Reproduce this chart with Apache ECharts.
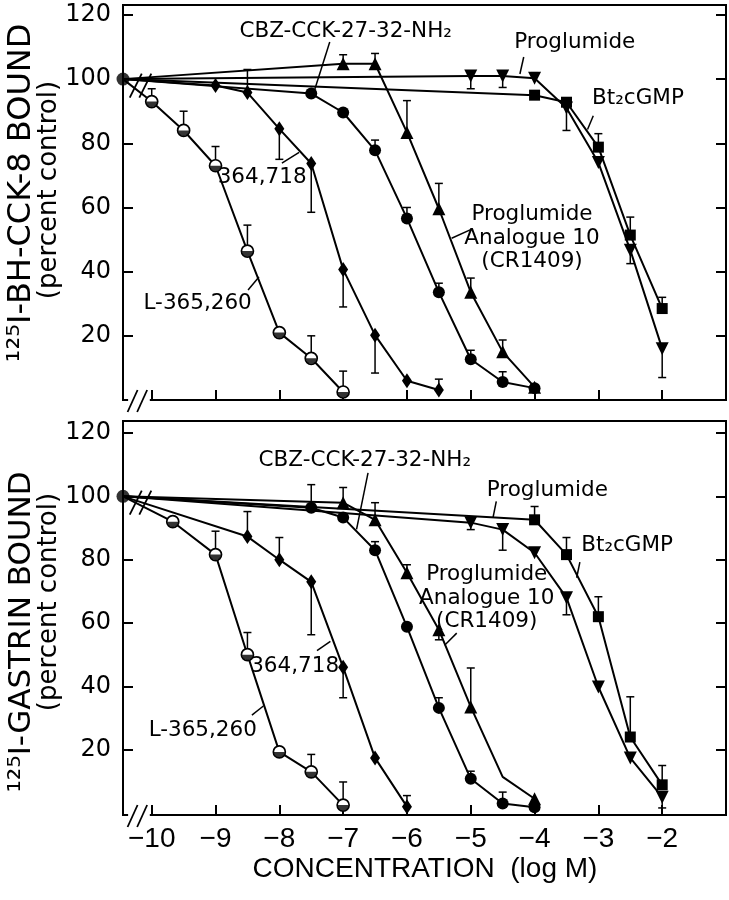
<!DOCTYPE html>
<html>
<head>
<meta charset="utf-8">
<script src="https://cdn.jsdelivr.net/npm/echarts@6/dist/echarts.min.js"></script>
<style>
  html, body { margin: 0; padding: 0; background: #fff; }
  #chart { width: 729px; height: 900px; }
</style>
</head>
<body>
<div id="chart"></div>
<script>
// control value sits on the broken left edge of each panel
const CTRL = -10.45;

const xTicks = [-10, -9, -8, -7, -6, -5, -4, -3, -2];
const yTicks = [20, 40, 60, 80, 100, 120];

// ---- top panel: 125I-BH-CCK-8 bound ----
const lTop = [[CTRL, 100], [-10, 93], [-9.5, 84], [-9, 73], [-8.5, 46.4], [-8, 21], [-7.5, 13], [-7, 2.5]];
const lTopErr = [[-10, 93, 97], [-9.5, 84, 90], [-9, 73, 79], [-8.5, 46.4, 54.5], [-7.5, 13, 20], [-7, 2.5, 9]];

const dTop = [[CTRL, 100], [-9, 98], [-8.5, 95.8], [-8, 84.5], [-7.5, 73.7], [-7, 40.7], [-6.5, 20.2], [-6, 6], [-5.5, 3.1]];
const dTopErr = [[-8.5, 95.8, 103], [-8, 84.5, 75], [-7.5, 73.7, 58.5], [-7, 40.7, 29], [-6.5, 20.2, 8.4], [-5.5, 3.1, 6.5]];

const cbzTop = [[CTRL, 100], [-7.5, 95.5], [-7, 89.6], [-6.5, 77.8], [-6, 56.6], [-5.5, 33.6], [-5, 12.7], [-4.5, 5.6], [-4, 3.7]];
const cbzTopErr = [[-6.5, 77.8, 81], [-6, 56.6, 60], [-5.5, 33.6, 36.4], [-5, 12.7, 15.5], [-4.5, 5.6, 8.8]];

const anaTop = [[CTRL, 100], [-7, 104.8], [-6.5, 104.8], [-6, 83.4], [-5.5, 59.6], [-5, 33.6], [-4.5, 15], [-4, 4]];
const anaTopErr = [[-7, 104.8, 107.6], [-6.5, 104.8, 108], [-6, 83.4, 93.3], [-5.5, 59.6, 67.5], [-5, 33.6, 38], [-4.5, 15, 18.7]];

const proTop = [[CTRL, 100], [-5, 101], [-4.5, 101], [-4, 100.3], [-3.5, 91], [-3, 74], [-2.5, 46.7], [-2, 16]];
const proTopErr = [[-5, 101, 97], [-4.5, 101, 97.4], [-4, 100.3, 102], [-3.5, 91, 84], [-2.5, 46.7, 42.5], [-2, 16, 7]];

const cgTop = [[CTRL, 100], [-4, 95], [-3.5, 92.8], [-3, 78.8], [-2.5, 51.4], [-2, 28.5]];
const cgTopErr = [[-3, 78.8, 83], [-2.5, 51.4, 57], [-2, 28.5, 32]];

// ---- bottom panel: 125I-gastrin bound ----
const lBot = [[CTRL, 100], [-9.67, 92], [-9, 81.6], [-8.5, 50], [-8, 19.3], [-7.5, 13], [-7, 2.5]];
const lBotErr = [[-9, 81.6, 89], [-8.5, 50, 57], [-7.5, 13, 18.5], [-7, 2.5, 9.8]];

const dBot = [[CTRL, 100], [-8.5, 87.3], [-8, 80], [-7.5, 73], [-7, 46], [-6.5, 17.4], [-6, 2]];
const dBotErr = [[-8.5, 87.3, 95.2], [-8, 80, 87], [-7.5, 73, 56.3], [-7, 46, 36.4], [-6, 2, 5.5]];

const cbzBot = [[CTRL, 100], [-7.5, 96.4], [-7, 93.3], [-6.5, 83], [-6, 58.8], [-5.5, 33.2], [-5, 10.8], [-4.5, 3], [-4, 1.8]];
const cbzBotErr = [[-7.5, 96.4, 103.7], [-6.5, 83, 85.7], [-5.5, 33.2, 36.4], [-5, 10.8, 13.2], [-4.5, 3, 6.6]];

const anaBot = [[CTRL, 100], [-7, 98], [-6.5, 92.6], [-6, 75.9], [-5.5, 57.9], [-5, 33.5], [-4.5, 11.4], [-4, 4.5]];
const anaBotErr = [[-7, 98, 102.8], [-6.5, 92.6, 98], [-6, 75.9, 78.4], [-5.5, 57.9, 54.7], [-5, 33.5, 45.8]];
const anaBotBends = [-4.5]; // bend in the line with no marker

const proBot = [[CTRL, 100], [-5, 91.7], [-4.5, 89.5], [-4, 82.2], [-3.5, 68], [-3, 39.8], [-2.5, 17.4], [-2, 5]];
const proBotErr = [[-5, 91.7, 89.5], [-4.5, 89.5, 83], [-3.5, 68, 62.6], [-2, 5, 1.6]];

const cgBot = [[CTRL, 100], [-4, 92.6], [-3.5, 81.6], [-3, 62], [-2.5, 24], [-2, 8.9]];
const cgBotErr = [[-4, 92.6, 96.8], [-3.5, 81.6, 87], [-3, 62, 68.3], [-2.5, 24, 36.7], [-2, 8.9, 15]];

const control = [[CTRL, 100]];

// annotation labels [x, y, text] and arrows [x1, y1, x2, y2], in data units
const notesTop = [
  [-6.96, 115.0, 'CBZ-CCK-27-32-NH\u2082'],
  [-3.37, 111.3, 'Proglumide'],
  [-2.38, 94.1, 'Bt\u2082cGMP'],
  [-8.27, 69.5, '364,718'],
  [-9.28, 30.2, 'L-365,260'],
  [-4.04, 50.5, 'Proglumide\nAnalogue 10\n(CR1409)']
];
const arrowsTop = [
  [-7.21, 111.6, -7.47, 95.2], [-4.17, 106.9, -4.23, 101.6], [-3.08, 88.6, -3.17, 84.3],
  [-7.96, 73.8, -7.69, 77.2], [-8.49, 34.3, -8.32, 38.3], [-5.01, 53.0, -5.3, 50.4]
];
const notesBot = [
  [-6.66, 111.5, 'CBZ-CCK-27-32-NH\u2082'],
  [-3.80, 102.0, 'Proglumide'],
  [-2.55, 84.6, 'Bt\u2082cGMP'],
  [-4.75, 67.9, 'Proglumide\nAnalogue 10\n(CR1409)'],
  [-7.76, 46.4, '364,718'],
  [-9.2, 26.2, 'L-365,260']
];
const arrowsBot = [
  [-6.61, 107.4, -6.79, 89.6], [-4.6, 98.4, -4.65, 93.4], [-3.29, 79.2, -3.34, 74.3],
  [-5.22, 56.8, -5.41, 53.0], [-7.41, 51.3, -7.2, 54.2], [-8.43, 30.9, -8.25, 33.8]
];

const FONT = 'DejaVu Sans';
const yRange = [[0, 123.1], [-0.63, 123.8]];

function curve(data, gi, symbol, size, opts) {
  opts = opts || {};
  const hide = opts.hide || [];
  return {
    type: 'line',
    xAxisIndex: gi,
    yAxisIndex: gi * 2,
    data: data.map(p => (p[0] === CTRL || hide.includes(p[0])) ? { value: p, symbol: 'none' } : p),
    symbol: symbol,
    symbolSize: size,
    symbolRotate: opts.rotate || 0,
    showAllSymbol: true,
    lineStyle: { color: '#000', width: 2 },
    itemStyle: { color: opts.fill || '#000', borderColor: '#000', borderWidth: opts.border || 0 },
    z: 4
  };
}

// lower half of the half-filled circle marker
function halfFill(data, gi) {
  return {
    type: 'scatter',
    xAxisIndex: gi,
    yAxisIndex: gi * 2,
    data: data.filter(p => p[0] !== CTRL),
    symbol: 'path://M0,0 A10,10 0 0 0 20,0 Z',
    symbolKeepAspect: true,
    symbolSize: 11,
    symbolOffset: [0, '25%'],
    itemStyle: { color: '#000' },
    z: 5
  };
}

function errBars(data, gi) {
  return {
    type: 'custom',
    xAxisIndex: gi,
    yAxisIndex: gi * 2,
    data: data,
    encode: { x: 0, y: [1, 2] },
    silent: true,
    z: 3,
    renderItem: function (params, api) {
      const a = api.coord([api.value(0), api.value(1)]);
      const b = api.coord([api.value(0), api.value(2)]);
      const st = { stroke: '#000', lineWidth: 1.5 };
      return {
        type: 'group',
        children: [
          { type: 'line', shape: { x1: a[0], y1: a[1], x2: b[0], y2: b[1] }, style: st },
          { type: 'line', shape: { x1: b[0] - 4, y1: b[1], x2: b[0] + 4, y2: b[1] }, style: st }
        ]
      };
    }
  };
}

// arrows from the labels to their curves
function arrowSeries(arrows, gi) {
  return {
    type: 'line',
    xAxisIndex: gi,
    yAxisIndex: gi * 2,
    data: [],
    silent: true,
    z: 6,
    markLine: {
      silent: true,
      symbol: ['none', 'arrow'],
      symbolSize: [0, 8],
      label: { show: false },
      lineStyle: { color: '#000', width: 1.5, type: 'solid' },
      data: arrows.map(a => [{ coord: [a[0], a[1]] }, { coord: [a[2], a[3]] }])
    }
  };
}

function panelSeries(gi, s) {
  return [
    errBars(s.lErr, gi), errBars(s.dErr, gi), errBars(s.cbzErr, gi),
    errBars(s.anaErr, gi), errBars(s.proErr, gi), errBars(s.cgErr, gi),
    curve(s.l, gi, 'circle', 12, { fill: '#fff', border: 1.7 }),
    halfFill(s.l, gi),
    curve(s.d, gi, 'diamond', [10, 15]),
    curve(s.cbz, gi, 'circle', 12),
    curve(s.ana, gi, 'triangle', 13, { hide: s.anaHide || [] }),
    curve(s.pro, gi, 'triangle', 13, { rotate: 180 }),
    curve(s.cg, gi, 'rect', 11),
    {
      type: 'scatter', xAxisIndex: gi, yAxisIndex: gi * 2, data: control,
      symbol: 'circle', symbolSize: 13, itemStyle: { color: '#000' }, z: 5
    },
    arrowSeries(s.arrows, gi)
  ];
}

const chart = echarts.init(document.getElementById('chart'), null, { renderer: 'canvas' });

const axisLine = { show: true, onZero: false, lineStyle: { color: '#000', width: 2 } };
const tickStyle = { color: '#000', width: 2 };

const option = {
  animation: false,
  backgroundColor: '#fff',
  grid: [
    { left: 123, right: 3, top: 5, height: 395, show: true, borderColor: '#000', borderWidth: 2 },
    { left: 123, right: 3, top: 421, height: 394, show: true, borderColor: '#000', borderWidth: 2 }
  ],
  xAxis: [0, 1].map(gi => ({
    type: 'value', gridIndex: gi, min: CTRL, max: -1.0,
    axisLine: axisLine,
    axisTick: { show: true, inside: true, length: 10, lineStyle: tickStyle, customValues: xTicks },
    axisLabel: {
      show: gi === 1, customValues: xTicks, margin: 10,
      color: '#000', fontFamily: 'Liberation Sans', fontSize: 28,
      formatter: v => String(v).replace('-', '\u2212')
    },
    splitLine: { show: false }
  })),
  yAxis: [0, 0, 1, 1].map((gi, k) => ({
    type: 'value', gridIndex: gi, position: k % 2 ? 'right' : 'left',
    min: yRange[gi][0], max: yRange[gi][1],
    axisLine: axisLine,
    axisTick: { show: true, inside: true, length: 10, lineStyle: tickStyle, customValues: yTicks },
    axisLabel: {
      show: k % 2 === 0, customValues: yTicks, margin: 12,
      color: '#000', fontFamily: FONT, fontSize: 24
    },
    splitLine: { show: false }
  })),
  series: [].concat(
    panelSeries(0, {
      l: lTop, lErr: lTopErr, d: dTop, dErr: dTopErr, cbz: cbzTop, cbzErr: cbzTopErr,
      ana: anaTop, anaErr: anaTopErr, pro: proTop, proErr: proTopErr, cg: cgTop, cgErr: cgTopErr,
      arrows: arrowsTop
    }),
    panelSeries(1, {
      l: lBot, lErr: lBotErr, d: dBot, dErr: dBotErr, cbz: cbzBot, cbzErr: cbzBotErr,
      ana: anaBot, anaErr: anaBotErr, anaHide: anaBotBends, pro: proBot, proErr: proBotErr,
      cg: cgBot, cgErr: cgBotErr, arrows: arrowsBot
    })
  )
};

chart.setOption(option);

// axis titles, annotation labels and the "//" break marks
function slash(cx, cy, dx, dy) {
  return {
    type: 'line', z: 100,
    shape: { x1: cx - dx, y1: cy + dy, x2: cx + dx, y2: cy - dy },
    style: { stroke: '#000', lineWidth: 1.8 }
  };
}

const gfx = [];
[0, 1].forEach(gi => {
  const ymin = yRange[gi][0];
  const a = chart.convertToPixel({ gridIndex: gi }, [-10.37, ymin]);
  const b = chart.convertToPixel({ gridIndex: gi }, [-10.03, ymin]);
  gfx.push({ type: 'rect', z: 99, shape: { x: a[0], y: a[1] - 3, width: b[0] - a[0], height: 6 }, style: { fill: '#fff' } });
  const s1 = chart.convertToPixel({ gridIndex: gi }, [-10.3, ymin]);
  const s2 = chart.convertToPixel({ gridIndex: gi }, [-10.15, ymin]);
  gfx.push(slash(s1[0], s1[1] + 1, 5, 11), slash(s2[0], s2[1] + 1, 5, 11));
  const t1 = chart.convertToPixel({ gridIndex: gi }, [-10.25, 98]);
  const t2 = chart.convertToPixel({ gridIndex: gi }, [-10.1, 98]);
  gfx.push(slash(t1[0], t1[1], 6, 12), slash(t2[0], t2[1], 6, 12));
});

[[0, notesTop], [1, notesBot]].forEach(([gi, list]) => {
  list.forEach(n => {
    const p = chart.convertToPixel({ gridIndex: gi }, [n[0], n[1]]);
    gfx.push({
      type: 'text', x: p[0], y: p[1], z: 100,
      style: {
        text: n[2], fill: '#000', fontFamily: FONT, fontSize: 21.5, lineHeight: 23.5,
        align: 'center', verticalAlign: 'middle'
      }
    });
  });
});

function vtext(x, y, text, size) {
  return {
    type: 'text', x: x, y: y, rotation: Math.PI / 2, z: 100,
    style: { text: text, fill: '#000', fontFamily: FONT, fontSize: size, align: 'center', verticalAlign: 'middle' }
  };
}
gfx.push(
  vtext(22, 193, '\u00b9\u00b2\u2075I-BH-CCK-8 BOUND', 32),
  vtext(49, 190, '(percent control)', 26),
  vtext(22, 632, '\u00b9\u00b2\u2075I-GASTRIN BOUND', 31),
  vtext(49, 602, '(percent control)', 26),
  {
    type: 'text', x: 425, y: 869, z: 100,
    style: { text: 'CONCENTRATION  (log M)', fill: '#000', fontFamily: 'Liberation Sans', fontSize: 28, align: 'center', verticalAlign: 'middle' }
  }
);

chart.setOption({ graphic: gfx });
</script>
</body>
</html>
